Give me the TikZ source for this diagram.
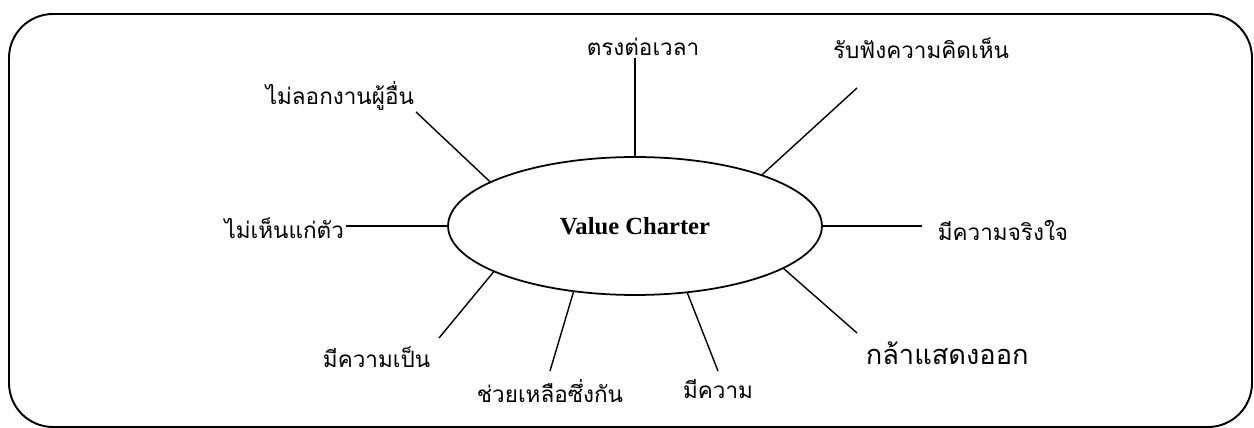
\documentclass[tikz,border=0pt]{standalone}
\usepackage{fontspec}
\setmainfont{Liberation Serif}
\newfontfamily\thaifont[Script=Thai]{Loma}
\usetikzlibrary{shapes.geometric,positioning}

\begin{document}
\begin{tikzpicture}[
  x=0.02cm, y=-0.02cm,
  hub/.style={ellipse, draw=black, line width=1pt, inner sep=0pt,
              minimum width=7.48cm, minimum height=2.76cm,
              font=\fontsize{14}{16}\selectfont\bfseries},
  val/.style={inner sep=1pt, font=\thaifont\fontsize{12.8}{15}\selectfont},
  bigval/.style={val, font=\thaifont\fontsize{15.5}{17}\selectfont},
  gap/.style={outer sep=4pt},
  spoke/.style={draw=black, line width=0.8pt},
  frame/.style={draw=black, line width=1.1pt, rounded corners=0.88cm},
]
\useasboundingbox (0,0) rectangle (1254,428);
\draw[frame] (9,14) rectangle (1252,427);

\node[hub] (vc) at (635,226) {Value Charter};

\node[val] (punct) at (643,47) {ตรงต่อเวลา};
\node[val] (listen) at (921,48) {รับฟังความคิดเห็น};
\node[val, anchor=south east] (copy) at (416,112) {ไม่ลอกงานผู้อื่น};
\node[val, anchor=east] (selfless) at (346,228) {ไม่เห็นแก่ตัว};
\node[val, outer sep=8pt, anchor=west] (sincere) at (922,230) {มีความจริงใจ};
\node[val, gap, anchor=north east] (spirit) at (439,338) {มีความเป็น};
\node[val, gap, anchor=north] (help) at (550,371) {ช่วยเหลือซึ่งกัน};
\node[val, gap, anchor=north] (have) at (718,371) {มีความ};
\node[bigval, gap, anchor=north west] (brave) at (857,333) {กล้าแสดงออก};
\coordinate (listentip) at (857,88);

\draw[spoke] (vc.north) -- (vc.north |- punct.south);
\draw[spoke] (vc.22.5) -- (listentip);
\draw[spoke] (vc.163.9) -- (copy.south east);
\draw[spoke] (vc.west) -- (vc.west -| selfless.east);
\draw[spoke] (vc.east) -- (vc.east -| sincere.west);
\draw[spoke] (vc.198.9) -- (spirit.north east);
\draw[spoke] (vc.227) -- (help.north);
\draw[spoke] (vc.308.3) -- (have.north);
\draw[spoke] (vc.344.8) -- (brave.north west);

\end{tikzpicture}
\end{document}
